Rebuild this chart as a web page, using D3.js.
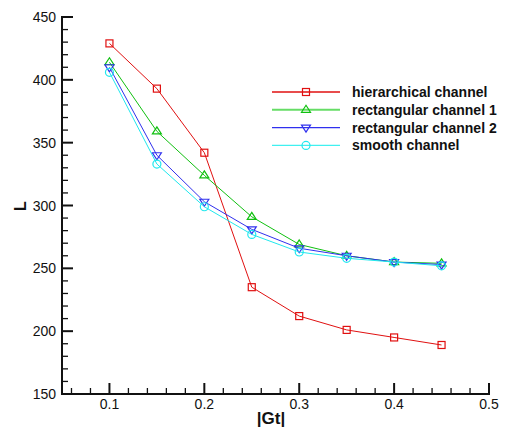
<!DOCTYPE html>
<html>
<head>
<meta charset="utf-8">
<script src="https://cdn.jsdelivr.net/npm/d3@7"></script>
<style>
  body { margin: 0; background: #fff; }
  text { font-family: Arial, "Liberation Sans", sans-serif; }
</style>
</head>
<body>
<script>
var gt = [0.1, 0.15, 0.2, 0.25, 0.3, 0.35, 0.4, 0.45];
var hierarchical = [429, 393, 342, 235, 212, 201, 195, 189];
var rect1 = [414, 359, 324, 291, 269, 260, 255, 254];
var rect2 = [410, 340, 303, 281, 266, 260, 255, 253];
var smooth = [406, 333, 299, 277, 263, 258, 255, 252];
var seriesNames = ["hierarchical channel", "rectangular channel 1", "rectangular channel 2", "smooth channel"];
var xTicks = [0.1, 0.2, 0.3, 0.4, 0.5];
var yTicks = [150, 200, 250, 300, 350, 400, 450];

function main() {
  var svg = d3.select("body").append("svg").attr("width", 512).attr("height", 431);
  var x = d3.scaleLinear().domain([0.05, 0.5]).range([62, 489]);
  var y = d3.scaleLinear().domain([150, 450]).range([394, 17]);

  var series = [
    {name: seriesNames[0], vals: hierarchical, color: "#e01010", legendColor: "#e01010", marker: "square"},
    {name: seriesNames[1], vals: rect1, color: "#10c010", legendColor: "#66dd66", marker: "up"},
    {name: seriesNames[2], vals: rect2, color: "#3030ee", legendColor: "#3030ee", marker: "down"},
    {name: seriesNames[3], vals: smooth, color: "#20e8ee", legendColor: "#40f0f0", marker: "circle"}
  ];

  // minor ticks
  var xMinor = d3.range(0.06, 0.5, 0.02).filter(function(v) { return Math.abs(v * 10 - Math.round(v * 10)) > 1e-6; });
  var yMinor = d3.range(160, 450, 10).filter(function(v) { return v % 50 != 0; });

  var ax = svg.append("g").attr("stroke", "#111");
  ax.selectAll(".xm").data(xMinor).enter().append("line")
    .attr("x1", function(d) { return x(d); }).attr("x2", function(d) { return x(d); })
    .attr("y1", 394).attr("y2", 388).attr("stroke-width", 1.3);
  ax.selectAll(".xM").data(xTicks).enter().append("line")
    .attr("x1", function(d) { return x(d); }).attr("x2", function(d) { return x(d); })
    .attr("y1", 394).attr("y2", 383).attr("stroke-width", 2);
  ax.selectAll(".ym").data(yMinor).enter().append("line")
    .attr("x1", 62).attr("x2", 68)
    .attr("y1", function(d) { return y(d); }).attr("y2", function(d) { return y(d); }).attr("stroke-width", 1.3);
  ax.selectAll(".yM").data(yTicks).enter().append("line")
    .attr("x1", 62).attr("x2", 73)
    .attr("y1", function(d) { return y(d); }).attr("y2", function(d) { return y(d); }).attr("stroke-width", 2);
  ax.append("path").attr("d", "M62,16V394H490").attr("fill", "none").attr("stroke-width", 2);

  svg.selectAll(".xl").data(xTicks).enter().append("text")
    .attr("x", function(d) { return x(d); }).attr("y", 409)
    .attr("text-anchor", "middle").attr("font-size", 14).attr("fill", "#111")
    .text(function(d) { return d; });
  svg.selectAll(".yl").data(yTicks).enter().append("text")
    .attr("x", 56).attr("y", function(d) { return y(d) + 5; })
    .attr("text-anchor", "end").attr("font-size", 14).attr("fill", "#111")
    .text(function(d) { return d; });

  svg.append("text").attr("x", 271).attr("y", 424).attr("text-anchor", "middle")
    .attr("font-size", 17).attr("font-weight", "bold").attr("fill", "#111").text("|Gt|");
  svg.append("text").attr("transform", "translate(26,206) rotate(-90)").attr("text-anchor", "middle")
    .attr("font-size", 16).attr("font-weight", "bold").attr("fill", "#111").text("L");

  var line = d3.line().x(function(d, i) { return x(gt[i]); }).y(function(d) { return y(d); });

  function marker(g, type, cx, cy, color) {
    var s = 3.5;
    if (type == "square") {
      g.append("rect").attr("x", cx - s).attr("y", cy - s).attr("width", 2 * s).attr("height", 2 * s)
        .attr("fill", "none").attr("stroke", color).attr("stroke-width", 1.2);
    } else if (type == "circle") {
      g.append("circle").attr("cx", cx).attr("cy", cy).attr("r", s + 0.5)
        .attr("fill", "none").attr("stroke", color).attr("stroke-width", 1.2);
    } else if (type == "up") {
      g.append("path").attr("d", "M" + cx + "," + (cy - s - 1) + "L" + (cx + s + 1) + "," + (cy + s - 1) + "L" + (cx - s - 1) + "," + (cy + s - 1) + "Z")
        .attr("fill", "none").attr("stroke", color).attr("stroke-width", 1.2);
    } else {
      g.append("path").attr("d", "M" + cx + "," + (cy + s + 1) + "L" + (cx + s + 1) + "," + (cy - s + 1) + "L" + (cx - s - 1) + "," + (cy - s + 1) + "Z")
        .attr("fill", "none").attr("stroke", color).attr("stroke-width", 1.2);
    }
  }

  var plot = svg.append("g");
  series.forEach(function(s) {
    plot.append("path").datum(s.vals).attr("d", line)
      .attr("fill", "none").attr("stroke", s.color).attr("stroke-width", 1);
    s.vals.forEach(function(v, i) { marker(plot, s.marker, x(gt[i]), y(v), s.color); });
  });

  // legend
  var lg = svg.append("g");
  series.forEach(function(s, i) {
    var ly = 92 + i * 17.8;
    lg.append("line").attr("x1", 272).attr("x2", 340).attr("y1", ly).attr("y2", ly)
      .attr("stroke", s.legendColor).attr("stroke-width", i == 1 ? 2 : 1.3);
    marker(lg, s.marker, 306, ly, s.color);
    lg.append("text").attr("x", 352).attr("y", ly + 5).attr("font-size", 14).attr("font-weight", "bold")
      .attr("fill", "#111").text(s.name);
  });
}
main();
</script>
</body>
</html>
